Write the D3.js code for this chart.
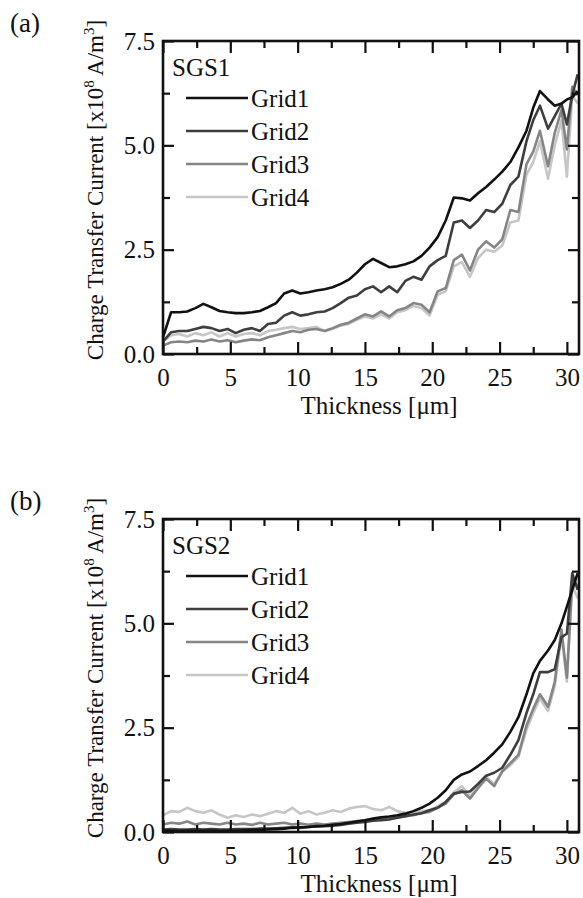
<!DOCTYPE html>
<html>
<head>
<meta charset="utf-8">
<script src="https://cdn.jsdelivr.net/npm/d3@7"></script>
<style>
  body { margin: 0; background: #fff; }
  svg text { font-family: "Liberation Serif", "Times New Roman", serif !important; fill: #111; }
</style>
</head>
<body>
<div id="chart"></div>
<script>
// thickness grid shared by all curves (um)
const thickness = [0, 0.6, 1.2, 1.8, 2.4, 3.0, 3.6, 4.2, 4.8, 5.4,
  6.0, 6.6, 7.2, 7.8, 8.4, 9.0, 9.6, 10.2, 10.8, 11.4,
  12.0, 12.6, 13.2, 13.8, 14.4, 15.0, 15.6, 16.2, 16.8, 17.4,
  18.0, 18.6, 19.2, 19.8, 20.4, 21.0, 21.6, 22.2, 22.8, 23.4,
  24.0, 24.6, 25.2, 25.8, 26.4, 27.0, 27.5, 28.0, 28.6, 29.1,
  29.6, 30.0, 30.4, 30.8];

const gridNames = ["Grid1", "Grid2", "Grid3", "Grid4"];
const gridColors = ["#111111", "#3e3e3e", "#858585", "#c6c6c6"];

// (a) SGS1, x10^8 A/m^3
const sgs1Grid1 = [0.40, 1.00, 1.00, 1.02, 1.10, 1.20, 1.12, 1.03, 1.00, 0.98,
  0.98, 1.00, 1.03, 1.12, 1.22, 1.45, 1.52, 1.45, 1.48, 1.52,
  1.55, 1.60, 1.68, 1.78, 1.95, 2.15, 2.28, 2.18, 2.08, 2.10,
  2.15, 2.22, 2.35, 2.55, 2.80, 3.20, 3.75, 3.73, 3.68, 3.85,
  4.00, 4.18, 4.37, 4.60, 4.95, 5.35, 5.90, 6.30, 6.10, 5.95,
  6.00, 6.10, 6.15, 6.30];
const sgs1Grid2 = [0.30, 0.52, 0.55, 0.55, 0.60, 0.65, 0.62, 0.55, 0.60, 0.50,
  0.58, 0.62, 0.55, 0.72, 0.75, 0.92, 1.00, 0.92, 0.95, 1.00,
  1.02, 1.10, 1.22, 1.35, 1.40, 1.55, 1.62, 1.48, 1.62, 1.48,
  1.75, 1.85, 1.78, 2.10, 2.25, 2.35, 3.15, 3.20, 3.02, 3.20,
  3.45, 3.40, 3.60, 4.05, 4.25, 5.10, 5.60, 5.95, 5.40, 5.70,
  6.00, 5.50, 6.20, 6.70];
const sgs1Grid3 = [0.20, 0.28, 0.30, 0.28, 0.32, 0.30, 0.35, 0.30, 0.33, 0.28,
  0.32, 0.35, 0.33, 0.40, 0.45, 0.50, 0.55, 0.52, 0.58, 0.60,
  0.55, 0.62, 0.70, 0.75, 0.85, 0.95, 0.90, 1.02, 0.90, 1.05,
  1.10, 1.22, 1.18, 1.00, 1.50, 1.58, 2.25, 2.38, 2.00, 2.50,
  2.70, 2.55, 2.75, 3.45, 3.40, 4.55, 4.85, 5.35, 4.50, 5.30,
  5.85, 4.90, 6.40, 6.20];
const sgs1Grid4 = [0.30, 0.45, 0.48, 0.42, 0.50, 0.45, 0.52, 0.42, 0.50, 0.42,
  0.48, 0.50, 0.45, 0.55, 0.58, 0.62, 0.65, 0.60, 0.62, 0.65,
  0.55, 0.60, 0.68, 0.72, 0.82, 0.90, 0.85, 0.95, 0.85, 1.00,
  1.05, 1.15, 1.10, 0.92, 1.42, 1.50, 2.10, 2.20, 1.85, 2.30,
  2.50, 2.45, 2.60, 3.15, 3.20, 4.30, 4.60, 5.10, 4.20, 5.00,
  5.60, 4.25, 6.20, 6.00];

// (b) SGS2
const sgs2Grid1 = [0.03, 0.03, 0.02, 0.03, 0.02, 0.03, 0.03, 0.02, 0.03, 0.03,
  0.04, 0.05, 0.05, 0.06, 0.07, 0.08, 0.10, 0.11, 0.12, 0.14,
  0.15, 0.17, 0.19, 0.22, 0.25, 0.28, 0.32, 0.35, 0.37, 0.40,
  0.44, 0.50, 0.58, 0.68, 0.82, 1.00, 1.25, 1.38, 1.45, 1.58,
  1.72, 1.90, 2.10, 2.40, 2.75, 3.30, 3.80, 4.10, 4.35, 4.60,
  5.00, 5.40, 5.80, 6.20];
const sgs2Grid2 = [0.06, 0.07, 0.06, 0.06, 0.07, 0.06, 0.07, 0.06, 0.06, 0.07,
  0.07, 0.07, 0.08, 0.08, 0.09, 0.10, 0.11, 0.10, 0.12, 0.13,
  0.14, 0.15, 0.17, 0.20, 0.22, 0.24, 0.27, 0.28, 0.30, 0.34,
  0.38, 0.42, 0.45, 0.52, 0.58, 0.72, 0.92, 0.96, 0.97, 1.15,
  1.35, 1.42, 1.54, 1.85, 2.20, 2.85, 3.30, 3.83, 3.83, 3.90,
  4.67, 4.75, 6.20, 5.80];
const sgs2Grid3 = [0.18, 0.22, 0.20, 0.25, 0.18, 0.22, 0.20, 0.18, 0.22, 0.18,
  0.20, 0.17, 0.22, 0.18, 0.20, 0.22, 0.18, 0.20, 0.17, 0.20,
  0.18, 0.20, 0.22, 0.24, 0.26, 0.28, 0.30, 0.30, 0.32, 0.35,
  0.38, 0.40, 0.45, 0.48, 0.58, 0.68, 0.90, 1.00, 0.80, 1.05,
  1.28, 1.10, 1.45, 1.65, 1.85, 2.55, 2.95, 3.30, 3.00, 3.60,
  4.85, 3.70, 6.05, 5.90];
const sgs2Grid4 = [0.40, 0.50, 0.48, 0.58, 0.50, 0.46, 0.52, 0.42, 0.34, 0.40,
  0.36, 0.42, 0.38, 0.44, 0.50, 0.46, 0.58, 0.44, 0.50, 0.42,
  0.46, 0.52, 0.48, 0.56, 0.60, 0.62, 0.55, 0.52, 0.60, 0.50,
  0.46, 0.48, 0.50, 0.52, 0.62, 0.72, 0.95, 1.10, 0.85, 1.10,
  1.32, 1.15, 1.45, 1.60, 1.80, 2.45, 2.85, 3.20, 2.90, 3.50,
  4.70, 3.60, 5.90, 5.60];

const xMajor = [0, 5, 10, 15, 20, 25, 30];
const xMinor = [2.5, 7.5, 12.5, 17.5, 22.5, 27.5];
const yMajor = [0, 2.5, 5.0, 7.5];
const yMinor = [1.25, 3.75, 6.25];

const width = 583, height = 898;
const plotLeft = 163, plotRight = 579, plotH = 313;
const serif = '"Liberation Serif", "Times New Roman", serif';

const panels = [
  { label: "(a)", name: "SGS1", top: 41, series: [sgs1Grid1, sgs1Grid2, sgs1Grid3, sgs1Grid4] },
  { label: "(b)", name: "SGS2", top: 519, series: [sgs2Grid1, sgs2Grid2, sgs2Grid3, sgs2Grid4] }
];

const svg = d3.select("#chart")
  .append("svg")
  .attr("width", width)
  .attr("height", height)
  .style("font-family", serif);

const x = d3.scaleLinear().domain([0, 30.9]).range([plotLeft, plotRight]);

panels.forEach(p => {
  const bottom = p.top + plotH;
  const y = d3.scaleLinear().domain([0, 7.5]).range([bottom, p.top]);
  const g = svg.append("g");

  // curves
  const line = d3.line()
    .x((d, i) => x(thickness[i]))
    .y(d => y(d));
  g.append("g")
    .attr("fill", "none")
    .attr("stroke-width", 2.6)
    .attr("stroke-linejoin", "round")
    .selectAll("path")
    .data(p.series.map((s, i) => ({ values: s, i })).reverse())
    .join("path")
    .attr("stroke", d => gridColors[d.i])
    .attr("d", d => line(d.values));

  // axes, ticks pointing inward on all four sides
  const styleAxis = sel => {
    sel.attr("font-family", null).attr("font-size", null);
    sel.select(".domain").remove();
    sel.selectAll("line").attr("stroke", "#111").attr("stroke-width", 2.2);
    sel.selectAll("text").style("font-size", "25px").style("font-family", serif).attr("fill", "#111");
  };
  g.append("g").attr("transform", `translate(0,${bottom})`)
    .call(d3.axisBottom(x).tickValues(xMajor).tickSize(-12).tickPadding(14).tickFormat(d3.format("d")))
    .call(styleAxis);
  g.append("g").attr("transform", `translate(0,${bottom})`)
    .call(d3.axisBottom(x).tickValues(xMinor).tickSize(-7).tickFormat(""))
    .call(styleAxis);
  g.append("g").attr("transform", `translate(0,${p.top})`)
    .call(d3.axisTop(x).tickValues(xMajor).tickSize(-12).tickFormat(""))
    .call(styleAxis);
  g.append("g").attr("transform", `translate(0,${p.top})`)
    .call(d3.axisTop(x).tickValues(xMinor).tickSize(-7).tickFormat(""))
    .call(styleAxis);
  g.append("g").attr("transform", `translate(${plotLeft},0)`)
    .call(d3.axisLeft(y).tickValues(yMajor).tickSize(-11).tickPadding(8).tickFormat(d3.format(".1f")))
    .call(styleAxis);
  g.append("g").attr("transform", `translate(${plotLeft},0)`)
    .call(d3.axisLeft(y).tickValues(yMinor).tickSize(-7).tickFormat(""))
    .call(styleAxis);
  g.append("g").attr("transform", `translate(${plotRight},0)`)
    .call(d3.axisRight(y).tickValues(yMajor).tickSize(-11).tickFormat(""))
    .call(styleAxis);
  g.append("g").attr("transform", `translate(${plotRight},0)`)
    .call(d3.axisRight(y).tickValues(yMinor).tickSize(-7).tickFormat(""))
    .call(styleAxis);

  // frame
  g.append("rect")
    .attr("x", plotLeft).attr("y", p.top)
    .attr("width", plotRight - plotLeft).attr("height", plotH)
    .attr("fill", "none").attr("stroke", "#111").attr("stroke-width", 2.6);

  // legend
  g.append("text")
    .attr("x", 172).attr("y", p.top + 35)
    .style("font-size", "25px")
    .text(p.name);
  const leg = g.append("g")
    .selectAll("g")
    .data(gridNames)
    .join("g")
    .attr("transform", (d, i) => `translate(0,${p.top + 57 + i * 33})`);
  leg.append("line")
    .attr("x1", 186).attr("x2", 248)
    .attr("stroke", (d, i) => gridColors[i])
    .attr("stroke-width", 2.6);
  leg.append("text")
    .attr("x", 251).attr("dy", "0.35em")
    .style("font-size", "25px")
    .text(d => d);

  // axis titles
  g.append("text")
    .attr("x", 379).attr("y", bottom + 60)
    .attr("text-anchor", "middle")
    .style("font-size", "25px")
    .text("Thickness [μm]");

  const yt = g.append("text")
    .attr("transform", `translate(103,${p.top + 149}) rotate(-90)`)
    .attr("text-anchor", "middle")
    .style("font-size", "23px");
  yt.append("tspan").text("Charge Transfer Current [x10");
  yt.append("tspan").style("font-size", "15px").attr("dy", -9).text("8");
  yt.append("tspan").attr("dy", 9).text(" A/m");
  yt.append("tspan").style("font-size", "15px").attr("dy", -9).text("3");
  yt.append("tspan").attr("dy", 9).text("]");

  // panel label
  svg.append("text")
    .attr("x", 10).attr("y", p.top - 9)
    .style("font-size", "27px")
    .text(p.label);
});
</script>
</body>
</html>
